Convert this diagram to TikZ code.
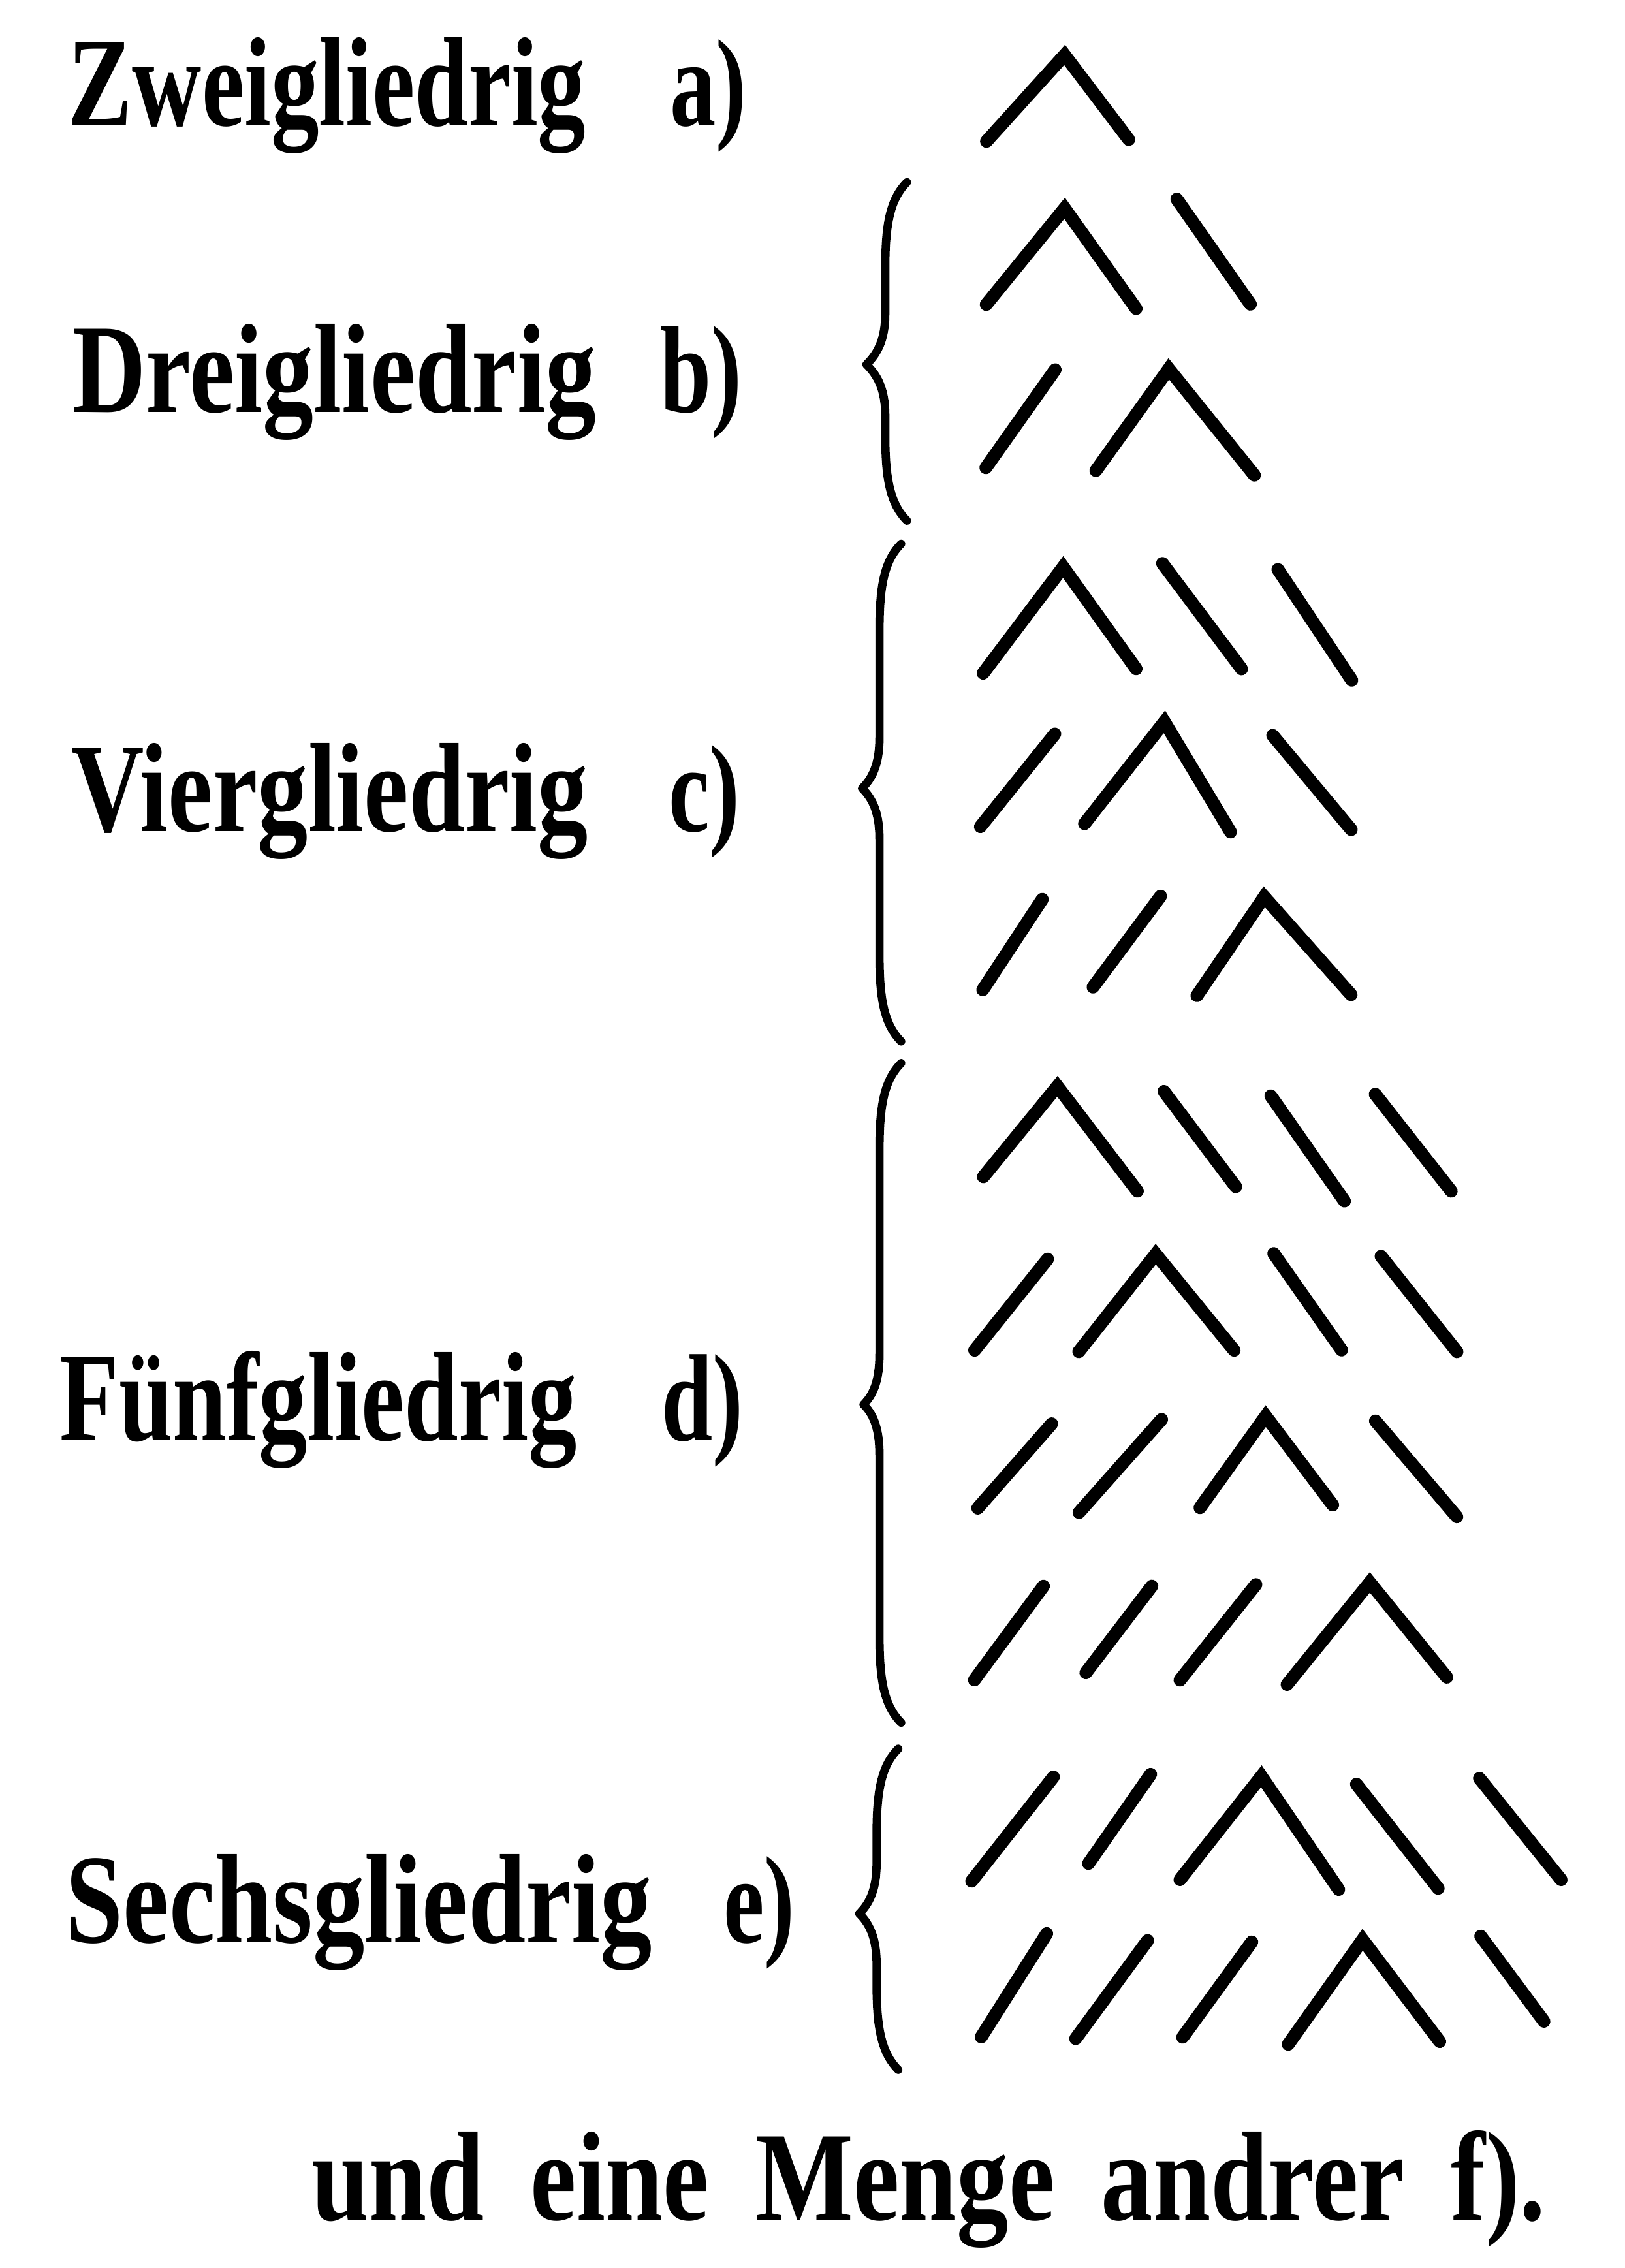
\documentclass[tikz,border=0pt]{standalone}
\usepackage{graphicx}
\usepackage{fontspec}
\setmainfont{Liberation Serif}
\tikzset{
  stroke/.style={line width=5.6pt, line cap=round, line join=miter, shorten <=2.8pt, shorten >=2.8pt},
  bracestyle/.style={line width=3.6pt, line cap=round, line join=round},
  frlabel/.style={anchor=base west, inner sep=0pt, font=\fontsize{41}{50}\selectfont\bfseries},
  romlabel/.style={anchor=base west, inner sep=0pt, font=\fontsize{40}{48}\selectfont\bfseries},
}
\newcommand{\tallt}[2][1]{\scalebox{#1}[1.35]{#2}}
\newcommand{\caretmk}[6]{\draw[stroke] (#1,#2) -- (#3,#4+6) -- (#5,#6);}
\newcommand{\barmk}[4]{\draw[stroke] (#1,#2) -- (#3,#4);}
\newcommand{\bracemk}[5]{% x0, ytop, ymid, ybot, xtip
  \draw[bracestyle] (#1+15,#2) .. controls (#1+3,#2+12) and (#1,#2+30) .. (#1,#2+60)
    -- (#1,#3-35) .. controls (#1,#3-15) and (#5+6,#3-6) .. (#5,#3)
    .. controls (#5+6,#3+6) and (#1,#3+15) .. (#1,#3+35)
    -- (#1,#4-60) .. controls (#1,#4-30) and (#1+3,#4-12) .. (#1+15,#4);}
\begin{document}
\begin{tikzpicture}[x=0.022146cm, y=-0.022146cm]
\useasboundingbox (0,0) rectangle (1123,1568);
\fill[white] (0,0) rectangle (1123,1568);

% labels
\node[frlabel] (la) at (47,87) {\tallt[1.02]{Zweigliedrig}};
\node[romlabel] (ra) at (463,87) {\tallt{a)}};
\node[frlabel] (lb) at (50,285) {\tallt[1.08]{Dreigliedrig}};
\node[romlabel] (rb) at (456,285) {\tallt{b)}};
\node[frlabel] (lc) at (49,575) {\tallt[1.07]{Viergliedrig}};
\node[romlabel] (rc) at (462,575) {\tallt{c)}};
\node[frlabel] (ld) at (41,996) {\tallt[1.03]{Fünfgliedrig}};
\node[romlabel] (rd) at (457,996) {\tallt{d)}};
\node[frlabel] (le) at (45,1343) {\tallt[1.1]{Sechsgliedrig}};
\node[romlabel] (re) at (500,1343) {\tallt{e)}};
\node[frlabel] (lf) at (215,1535) {\tallt[1.1]{und\hspace{0.45em}eine\hspace{0.45em}Menge\hspace{0.45em}andrer\hspace{0.45em}f).}};

% braces
\bracemk{612}{126}{252}{360}{599}
\bracemk{608}{376}{545}{720}{596}
\bracemk{608}{735}{971}{1191}{597}
\bracemk{606}{1209}{1323}{1431}{594}

% a
\caretmk{679}{101}{736}{32}{783}{100}
% b
\caretmk{679}{214}{736}{138}{788}{217}
\barmk{811}{134}{867}{214}
\barmk{732}{252}{679}{327}
\caretmk{755}{329}{808}{249}{870}{332}
% c
\caretmk{677}{469}{735}{386}{788}{466}
\barmk{801}{386}{861}{466}
\barmk{881}{390}{937}{474}
\barmk{732}{504}{675}{575}
\caretmk{747}{573}{805}{493}{853}{579}
\barmk{877}{505}{937}{577}
\barmk{723}{618}{677}{688}
\barmk{805}{616}{753}{686}
\caretmk{825}{692}{874}{614}{937}{691}
% d
\caretmk{677}{817}{731}{745}{789}{827}
\barmk{802}{751}{857}{824}
\barmk{876}{754}{932}{834}
\barmk{948}{753}{1006}{827}
\barmk{727}{867}{671}{937}
\caretmk{743}{938}{799}{861}{856}{937}
\barmk{878}{863}{930}{937}
\barmk{952}{865}{1010}{938}
\barmk{730}{981}{673}{1046}
\barmk{806}{978}{743}{1049}
\caretmk{827}{1046}{875}{973}{924}{1044}
\barmk{948}{979}{1010}{1052}
\barmk{724}{1093}{671}{1165}
\barmk{799}{1093}{748}{1160}
\barmk{871}{1092}{813}{1165}
\caretmk{887}{1168}{947}{1088}{1003}{1163}
% e
\barmk{731}{1225}{669}{1304}
\barmk{798}{1223}{750}{1292}
\caretmk{813}{1303}{872}{1222}{928}{1310}
\barmk{935}{1230}{997}{1309}
\barmk{1020}{1226}{1082}{1303}
\barmk{726}{1333}{676}{1412}
\barmk{796}{1338}{741}{1413}
\barmk{868}{1339}{815}{1412}
\caretmk{888}{1417}{942}{1335}{998}{1415}
\barmk{1021}{1335}{1070}{1401}
\end{tikzpicture}
\end{document}
